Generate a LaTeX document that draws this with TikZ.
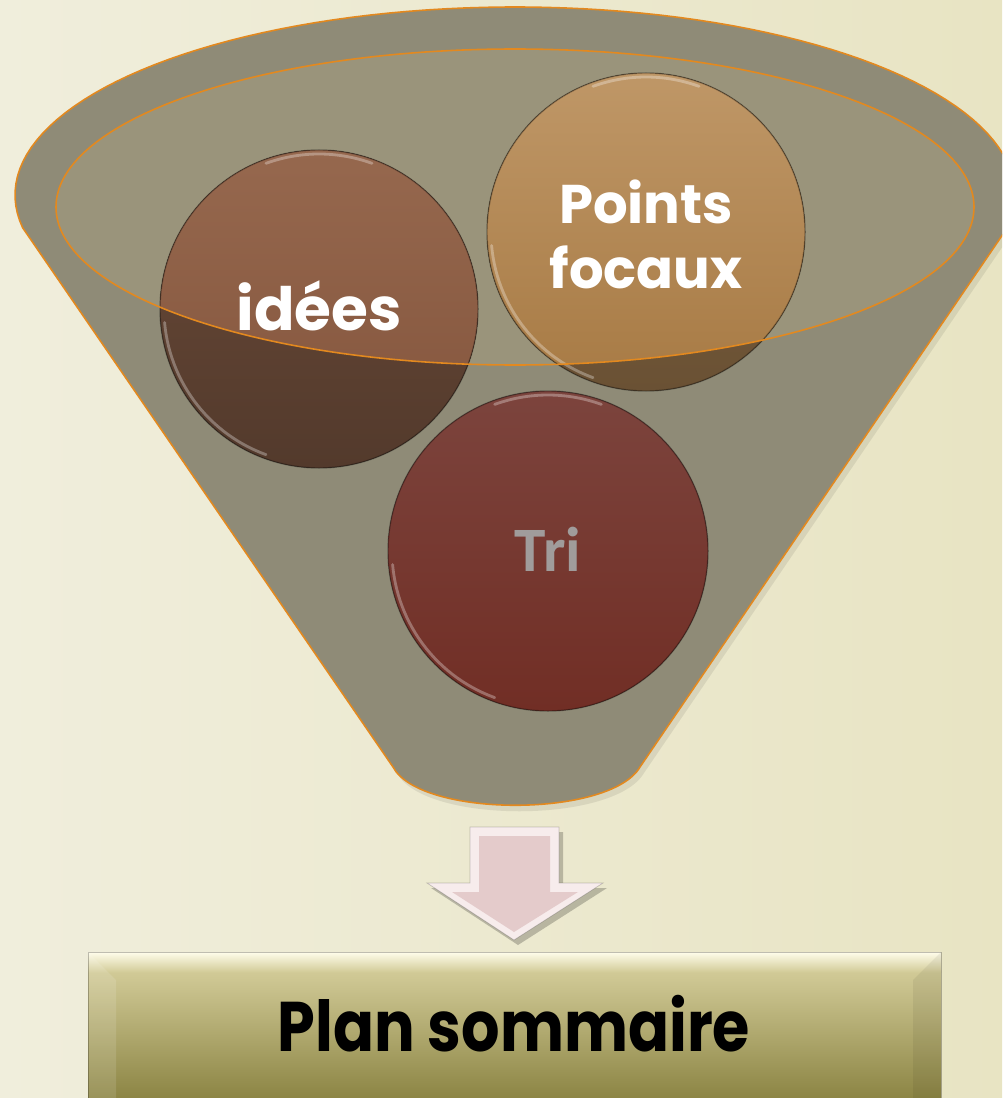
\documentclass[tikz,border=0pt]{standalone}
\usepackage{fontspec}
\newfontfamily\pop{Poppins}
\newfontfamily\carl{Carlito}
\definecolor{bgL}{HTML}{F0EEDC}
\definecolor{bgR}{HTML}{E8E4C3}
\definecolor{funnelc}{HTML}{8F8B77}
\definecolor{innerc}{HTML}{9A947B}
\definecolor{edgeo}{HTML}{E3891F}
\definecolor{idTop}{HTML}{96684E}
\definecolor{idBot}{HTML}{83543C}
\definecolor{idDTop}{HTML}{6A4A38}
\definecolor{idDBot}{HTML}{533A2C}
\definecolor{pfTop}{HTML}{BF9767}
\definecolor{pfBot}{HTML}{A77A44}
\definecolor{pfDTop}{HTML}{7E6340}
\definecolor{pfDBot}{HTML}{6A5134}
\definecolor{trTop}{HTML}{7C443D}
\definecolor{trBot}{HTML}{712E25}
\definecolor{triTxt}{HTML}{A09C9B}
\definecolor{arLight}{HTML}{F7ECEC}
\definecolor{arMain}{HTML}{E4CBCB}
\definecolor{bxHi}{HTML}{FFFDEB}
\definecolor{bxTop}{HTML}{D2CB98}
\definecolor{bxBot}{HTML}{8C8544}
\tikzset{
  rim/.style={draw=black, draw opacity=.3, line width=0.8pt},
  glint/.style={draw=white, draw opacity=.3, line width=1.6pt, line cap=round},
  whitetxt/.style={text=white, font=\pop\bfseries, align=center},
}
\begin{document}
\begin{tikzpicture}[x=0.02cm,y=-0.02cm]
\useasboundingbox (0,0) rectangle (1002,1098);
\clip (0,0) rectangle (1002,1098);
% background
\fill[left color=bgL, right color=bgR] (0,0) rectangle (1002,1098);
% funnel shadow
\fill[black, opacity=.08] plot[domain=190:-10,samples=90] ({519+500*cos(\x)},{201-188*sin(\x)}) -- (644,773) .. controls (614,824) and (424,824) .. (397,773) -- cycle;
% funnel
\fill[funnelc] plot[domain=190:-10,samples=90] ({515+500*cos(\x)},{195-188*sin(\x)}) -- (640,767) .. controls (610,818) and (420,818) .. (393,767) -- cycle;
\draw[edgeo, line width=0.9pt] plot[domain=190:-10,samples=90] ({515+500*cos(\x)},{195-188*sin(\x)}) -- (640,767) .. controls (610,818) and (420,818) .. (393,767) -- cycle;
% inner ellipse fill
\fill[innerc] (515,207) ellipse [x radius=459, y radius=158];
% circles: dark versions
\fill[top color=idDTop, bottom color=idDBot] (319,309) circle [radius=159];
\fill[top color=pfDTop, bottom color=pfDBot] (646,232) circle [radius=159];
\fill[top color=trTop, bottom color=trBot] (548,551) circle [radius=160];
% lighter parts inside the ellipse
\begin{scope}
  \clip (515,207) ellipse [x radius=459, y radius=158];
  \fill[top color=idTop, bottom color=idBot] (319,309) circle [radius=159];
  \fill[top color=pfTop, bottom color=pfBot] (646,232) circle [radius=159];
\end{scope}
% rims and glints
\draw[rim] (319,309) circle [radius=159];
\draw[rim] (646,232) circle [radius=159];
\draw[rim] (548,551) circle [radius=160];
\draw[glint] plot[domain=185:250,samples=30] ({319+155*cos(\x)},{309-155*sin(\x)});
\draw[glint] plot[domain=70:110,samples=30] ({319+155*cos(\x)},{309-155*sin(\x)});
\draw[glint] plot[domain=185:250,samples=30] ({646+155*cos(\x)},{232-155*sin(\x)});
\draw[glint] plot[domain=70:110,samples=30] ({646+155*cos(\x)},{232-155*sin(\x)});
\draw[glint] plot[domain=185:250,samples=30] ({548+156*cos(\x)},{551-156*sin(\x)});
\draw[glint] plot[domain=70:110,samples=30] ({548+156*cos(\x)},{551-156*sin(\x)});
% ellipse outline
\draw[edgeo, line width=0.9pt] (515,207) ellipse [x radius=459, y radius=158];
% texts in circles
\node[whitetxt, font=\pop\bfseries\fontsize{34}{40}\selectfont] (idees) at (319,306) {idées};
\node[whitetxt, font=\pop\bfseries\fontsize{31}{37}\selectfont] (points) at (646,234) {Points\\focaux};
\node[text=triTxt, font=\carl\bfseries\fontsize{36}{40}\selectfont] (tri) at (548,549) {Tri};
% arrow
\fill[black, opacity=.22] (474,832) -- (563,832) -- (563,888) -- (607,888) -- (518,945) -- (431,888) -- (474,888) -- cycle;
\fill[arLight] (470,827) -- (559,827) -- (559,883) -- (603,883) -- (514,940) -- (427,883) -- (470,883) -- cycle;
\fill[arMain] (479,836) -- (550,836) -- (550,892) -- (578,892) -- (514,932) -- (452,892) -- (479,892) -- cycle;
\draw[black, opacity=.2, line width=0.4pt] (470,827) -- (559,827) -- (559,883) -- (603,883) -- (514,940) -- (427,883) -- (470,883) -- cycle;
% box
\fill[top color=bxTop, bottom color=bxBot] (88,970) rectangle (941,1098);
\fill[top color=bxHi, bottom color=bxTop] (88,952) rectangle (941,972);
\fill[white, opacity=.12] (88,952) -- (116,980) -- (116,1098) -- (88,1098) -- cycle;
\fill[black, opacity=.06] (941,952) -- (913,980) -- (913,1098) -- (941,1098) -- cycle;
\draw[black, opacity=.25, line width=0.4pt] (88,1098) -- (88,952) -- (941,952) -- (941,1098);
\node[font=\pop\bfseries\fontsize{40}{44}\selectfont, text=black] (plan) at (514,1024) {\scalebox{0.86}[1]{Plan sommaire}};
\end{tikzpicture}
\end{document}
